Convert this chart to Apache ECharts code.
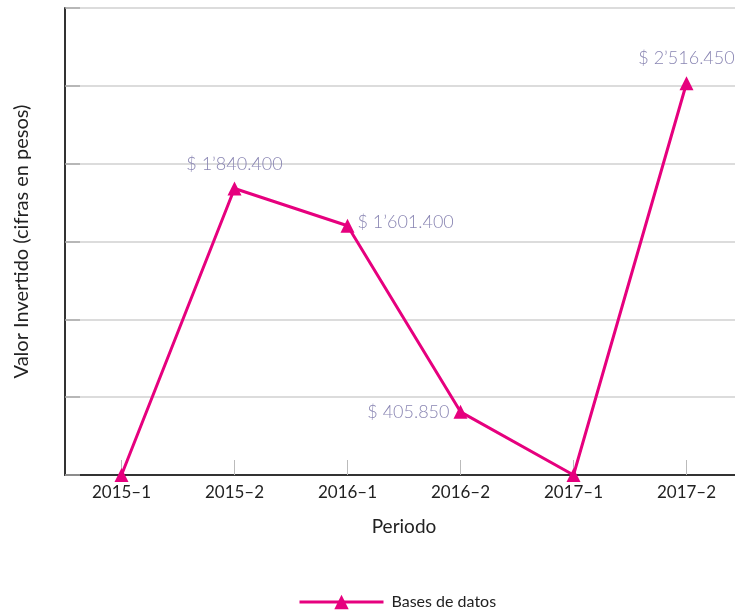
<!DOCTYPE html>
<html>
<head>
<meta charset="utf-8">
<script src="https://cdn.jsdelivr.net/npm/echarts@6/dist/echarts.min.js"></script>
<style>html,body{margin:0;padding:0;background:#fff;overflow:hidden;}#c{width:743px;height:615px;}</style>
</head>
<body>
<div id="c"></div>
<script>
var categories = ['2015–1', '2015–2', '2016–1', '2016–2', '2017–1', '2017–2'];
var values = [0, 1840400, 1601400, 405850, 0, 2516450];
var valueLabels = ['', '$ 1’840.400', '$ 1’601.400', '$ 405.850', '', '$ 2’516.450'];
var seriesName = 'Bases de datos';

var labelPos = ['top', 'top', 'right', 'left', 'top', 'top'];
var labelDist = [0, 8, 3, 4, 0, 9];
var labelOff = [[0,0],[0,0],[0,-4],[0,0],[0,0],[0,0]];

var FONT = 'Lato';
var pink = '#e6007e';

var data = values.map(function (v, i) {
  return {
    value: v,
    label: {
      show: valueLabels[i] !== '',
      formatter: valueLabels[i],
      position: labelPos[i],
      distance: labelDist[i],
      offset: labelOff[i]
    }
  };
});

var chart = echarts.init(document.getElementById('c'));
chart.setOption({
  animation: false,
  textStyle: { fontFamily: FONT },
  grid: { left: 65, right: 0, top: 8, bottom: 140, containLabel: false },
  legend: {
    top: 594,
    left: 298,
    padding: 0,
    itemWidth: 84,
    itemHeight: 18,
    lineStyle: { width: 3 },
    textStyle: { fontFamily: FONT, fontSize: 16, color: '#222', padding: [0, 0, 0, 3] },
    data: [seriesName]
  },
  xAxis: {
    type: 'category',
    data: categories,
    boundaryGap: true,
    name: 'Periodo',
    nameLocation: 'middle',
    nameGap: 42,
    nameTextStyle: { fontFamily: FONT, fontSize: 19, color: '#222' },
    axisLine: { lineStyle: { color: '#333', width: 2 } },
    axisTick: { show: true, inside: true, length: 15, alignWithLabel: true, lineStyle: { color: '#bbb', width: 1 } },
    axisLabel: { fontFamily: FONT, fontSize: 17, color: '#222', margin: 9 },
    splitLine: { show: false }
  },
  yAxis: {
    type: 'value',
    min: 0,
    max: 3000000,
    interval: 500000,
    name: 'Valor Invertido (cifras en pesos)',
    nameLocation: 'middle',
    nameGap: 33,
    nameTextStyle: { fontFamily: FONT, fontSize: 20, color: '#222' },
    axisLine: { show: true, lineStyle: { color: '#333', width: 2 } },
    axisTick: { show: true, inside: true, length: 15, lineStyle: { color: '#aaa', width: 1.5 } },
    axisLabel: { show: false },
    splitLine: { show: true, lineStyle: { color: '#d0d0d0', width: 1.5 } }
  },
  series: [{
    name: seriesName,
    type: 'line',
    data: data,
    symbol: 'triangle',
    symbolSize: 14,
    itemStyle: { color: pink },
    lineStyle: { color: pink, width: 3 },
    label: {
      fontFamily: FONT,
      fontSize: 18,
      fontWeight: 300,
      color: '#8a86b3'
    }
  }]
});
</script>
</body>
</html>
